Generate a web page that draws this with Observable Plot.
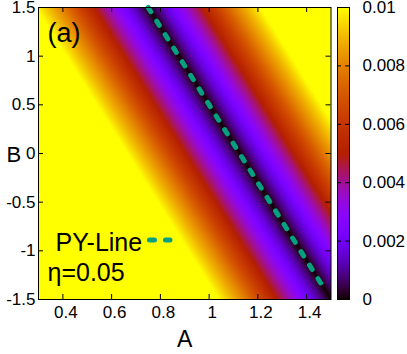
<!DOCTYPE html>
<html><head><meta charset="utf-8">
<script src="https://cdn.jsdelivr.net/npm/d3@7"></script>
<script src="https://cdn.jsdelivr.net/npm/@observablehq/plot@0.6"></script>
<style>
body{margin:0;background:#fff;}
#chart{width:407px;height:354px;display:flex;font-family:"Liberation Sans",Arial,Helvetica,sans-serif;}
#chart svg{display:block;}
</style></head><body><div id="chart"></div>
<script>
// ---- data ----
const xDomain = [0.3, 1.5];
const yDomain = [-1.5, 1.5];
const xTicks = [0.4, 0.6, 0.8, 1, 1.2, 1.4];
const yTicks = [-1.5, -1, -0.5, 0, 0.5, 1, 1.5];
const colorDomain = [0, 0.01];
const colorTicks = [0, 0.002, 0.004, 0.006, 0.008, 0.01];
// PY line end points (A, B)
const pyA = [0.75, 1.475];
const pyB = [1.5, -1.4];
// value profile across the PY line: horizontal offset in A from the line -> value
const profileOffset = [-0.46, -0.36, -0.26, -0.2, -0.15, -0.11, -0.07, -0.035, 0, 0.035, 0.07, 0.11, 0.15, 0.2, 0.26, 0.36, 0.46];
const profileValue  = [0.0100, 0.0081, 0.0059, 0.0045, 0.0034, 0.0025, 0.0016, 0.0008, 0, 0.0008, 0.0016, 0.0025, 0.0034, 0.0045, 0.0059, 0.0081, 0.0100];
const panelLabel = "(a)";
const lineLabel = "PY-Line";
const etaLabel = "η=0.05";
const xLabel = "A";
const yLabel = "B";

// ---- gnuplot default pm3d palette (rgbformulae 7,5,15) ----
function pm3d(t) {
  t = Math.max(0, Math.min(1, t));
  const r = Math.sqrt(t), g = t * t * t, b = Math.max(0, Math.sin(2 * Math.PI * t));
  return `rgb(${Math.round(r * 255)},${Math.round(g * 255)},${Math.round(b * 255)})`;
}
const colorScale = {type: "linear", domain: colorDomain, interpolate: pm3d, clamp: true};

const lineAtB = d3.scaleLinear().domain(pyB).range(pyA);
const profile = d3.scaleLinear().domain(profileOffset).range(profileValue).clamp(true);
const field = (a, b) => profile(a - lineAtB(b));

const font = "Liberation Sans, Arial, Helvetica, sans-serif";
const lineColor = "#04a07f";
const ML = 38, MT = 7;
const pyData = pyA.map((a, i) => ({a, b: pyB[i]}));

const main = Plot.plot({
  width: 335, height: 354,
  marginLeft: ML, marginRight: 4.5, marginTop: MT, marginBottom: 55,
  style: {fontFamily: font, fontSize: "17px", color: "black", background: "white"},
  x: {domain: xDomain},
  y: {domain: yDomain},
  color: colorScale,
  marks: [
    Plot.raster({fill: field, x1: xDomain[0], x2: xDomain[1], y1: yDomain[0], y2: yDomain[1], pixelSize: 1}),
    Plot.line(pyData, {x: "a", y: "b", stroke: lineColor, strokeWidth: 5, strokeDasharray: "5,11", strokeLinecap: "round"}),
    Plot.frame({stroke: "black"}),
    Plot.tickX(xTicks, {x: d => d, insetTop: 287, stroke: "black"}),
    Plot.tickX(xTicks, {x: d => d, insetBottom: 287, stroke: "black"}),
    Plot.tickY(yTicks, {y: d => d, insetLeft: 287.5, stroke: "black"}),
    Plot.tickY(yTicks, {y: d => d, insetRight: 287.5, stroke: "black"}),
    Plot.axisX({ticks: xTicks, tickSize: 0, tickPadding: 6, tickFormat: d => String(d), fontSize: 17, dx: 3, label: null}),
    Plot.axisY({ticks: yTicks, tickSize: 0, tickPadding: 3, tickFormat: d => String(d), fontSize: 17, label: null}),
    Plot.text([xLabel], {text: d => d, frameAnchor: "bottom", dy: 47, fontSize: 23}),
    Plot.text([yLabel], {text: d => d, frameAnchor: "left", dx: -32, dy: 1.5, fontSize: 22}),
    Plot.text([panelLabel], {text: d => d, frameAnchor: "top-left", textAnchor: "start", lineAnchor: "top", dx: 9, dy: 15.8, fontSize: 27}),
    Plot.text([lineLabel], {text: d => d, frameAnchor: "top-left", textAnchor: "start", lineAnchor: "top", dx: 17, dy: 225.3, fontSize: 25}),
    Plot.text([etaLabel], {text: d => d, frameAnchor: "top-left", textAnchor: "start", lineAnchor: "top", dx: 9, dy: 255.3, fontSize: 25}),
    () => {
      const l = d3.create("svg:line")
        .attr("x1", ML + 111.5).attr("x2", ML + 132)
        .attr("y1", MT + 233).attr("y2", MT + 233)
        .attr("stroke", lineColor).attr("stroke-width", 5)
        .attr("stroke-dasharray", "5,11").attr("stroke-linecap", "round");
      return l.node();
    }
  ]
});

const cb = Plot.plot({
  width: 72, height: 354,
  marginLeft: 2, marginRight: 58, marginTop: MT, marginBottom: 55,
  style: {fontFamily: font, fontSize: "17px", color: "black", background: "white"},
  x: {domain: [0, 1], axis: null},
  y: {domain: colorDomain, axis: null},
  color: colorScale,
  marks: [
    Plot.raster({fill: (x, y) => y, x1: 0, x2: 1, y1: colorDomain[0], y2: colorDomain[1], pixelSize: 1}),
    Plot.frame({stroke: "black"}),
    Plot.tickY(colorTicks, {y: d => d, insetRight: 8, stroke: "black"}),
    Plot.tickY(colorTicks, {y: d => d, insetLeft: 8, stroke: "black"}),
    Plot.axisY({anchor: "right", ticks: colorTicks, tickSize: 0, tickPadding: 13, tickFormat: d => String(d), fontSize: 17, label: null})
  ]
});

const chart = document.getElementById("chart");
chart.appendChild(main);
chart.appendChild(cb);
</script>
</body></html>
